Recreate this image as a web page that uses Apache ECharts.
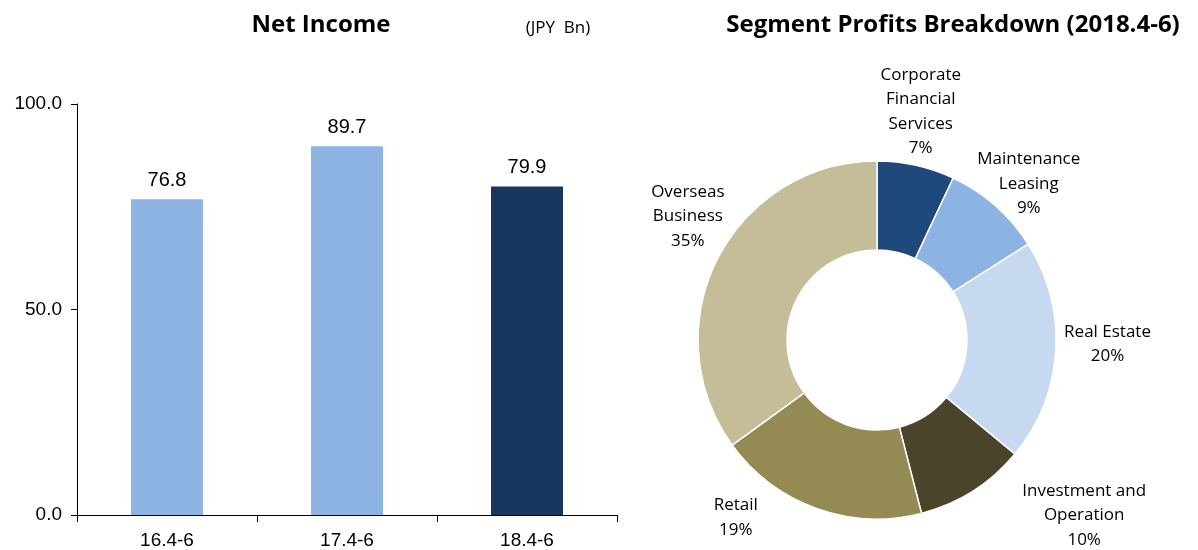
<!DOCTYPE html>
<html>
<head>
<meta charset="utf-8">
<script src="https://cdn.jsdelivr.net/npm/echarts@6/dist/echarts.min.js"></script>
<style>
html,body{margin:0;padding:0;background:#fff;}
#chart{width:1198px;height:550px;}
</style>
</head>
<body>
<div id="chart"></div>
<script>
// ---- data ----
var barCategories = ['16.4-6', '17.4-6', '18.4-6'];
var netIncome = [76.8, 89.7, 79.9];
var yTicks = [0, 50, 100];

var segmentNames = ['Corporate\nFinancial\nServices', 'Maintenance\nLeasing', 'Real Estate', 'Investment and\nOperation', 'Retail', 'Overseas\nBusiness'];
var segmentShares = [7, 9, 20, 10, 19, 35];

// ---- styles ----
var barColors = ['#8EB4E3', '#8EB4E3', '#17375E'];
var pieColors = ['#1F497D', '#8DB3E2', '#C6D9F1', '#4A452A', '#948A54', '#C4BD97'];
var labelShift = [[-6, -6], [1, 15], [3, -10], [85, -17], [-64, -37], [14, -20]];

var chart = echarts.init(document.getElementById('chart'), null, {renderer: 'canvas'});

var pieData = segmentNames.map(function (n, i) {
  return {name: n, value: segmentShares[i], itemStyle: {color: pieColors[i]}};
});
var labelData = segmentNames.map(function (n, i) {
  return {name: n, value: segmentShares[i]};
});

var option = {
  animation: false,
  backgroundColor: '#ffffff',
  title: [
    {text: 'Net Income', left: 316, top: 8, textAlign: 'center',
     textStyle: {fontFamily: 'Open Sans', fontWeight: 'bold', fontSize: 24, color: '#000'}},
    {text: '(JPY  Bn)', left: 553, top: 15, textAlign: 'center',
     textStyle: {fontFamily: 'Open Sans', fontWeight: 'normal', fontSize: 17, color: '#000'}},
    {text: 'Segment Profits Breakdown (2018.4-6)', left: 948, top: 8, textAlign: 'center',
     textStyle: {fontFamily: 'Open Sans', fontWeight: 'bold', fontSize: 24, color: '#000'}}
  ],
  grid: {left: 77, right: 581, top: 104, bottom: 35, containLabel: false},
  xAxis: {
    type: 'category',
    data: barCategories,
    boundaryGap: true,
    axisLine: {show: true, lineStyle: {color: '#000', width: 1}},
    axisTick: {show: true, length: 7, inside: false, alignWithLabel: false, lineStyle: {color: '#000'}},
    axisLabel: {margin: 16, fontFamily: 'Liberation Sans', fontSize: 19, color: '#000'},
    splitLine: {show: false}
  },
  yAxis: {
    type: 'value',
    min: yTicks[0],
    max: yTicks[yTicks.length - 1],
    interval: yTicks[1] - yTicks[0],
    axisLine: {show: true, lineStyle: {color: '#000', width: 1}},
    axisTick: {show: true, length: 6, inside: false, lineStyle: {color: '#000'}},
    axisLabel: {margin: 15, fontFamily: 'Liberation Sans', fontSize: 19, color: '#000',
      formatter: function (v) { return v.toFixed(1); }},
    splitLine: {show: false}
  },
  series: [
    {
      type: 'bar',
      barWidth: 72,
      data: netIncome.map(function (v, i) { return {value: v, itemStyle: {color: barColors[i]}}; }),
      label: {show: true, position: 'top', distance: 9, fontFamily: 'Liberation Sans', fontSize: 20, color: '#000',
        formatter: function (p) { return p.value.toFixed(1); }}
    },
    {
      type: 'pie',
      center: [877, 340],
      radius: [90, 179],
      startAngle: 90,
      clockwise: true,
      data: pieData,
      label: {show: false},
      labelLine: {show: false},
      itemStyle: {borderColor: '#ffffff', borderWidth: 1.5},
      emphasis: {disabled: true}
    },
    {
      type: 'pie',
      center: [877, 340],
      radius: [200, 250],
      startAngle: 90,
      clockwise: true,
      silent: true,
      data: labelData,
      itemStyle: {color: 'rgba(0,0,0,0)'},
      labelLine: {show: false},
      label: {show: true, position: 'inside', fontFamily: 'Open Sans', fontSize: 17, lineHeight: 24.5,
        color: '#000', align: 'center', formatter: '{b}\n{c}%'},
      labelLayout: function (p) {
        var s = labelShift[p.dataIndex];
        return {dx: s[0], dy: s[1]};
      },
      emphasis: {disabled: true}
    }
  ]
};
chart.setOption(option);
</script>
</body>
</html>
